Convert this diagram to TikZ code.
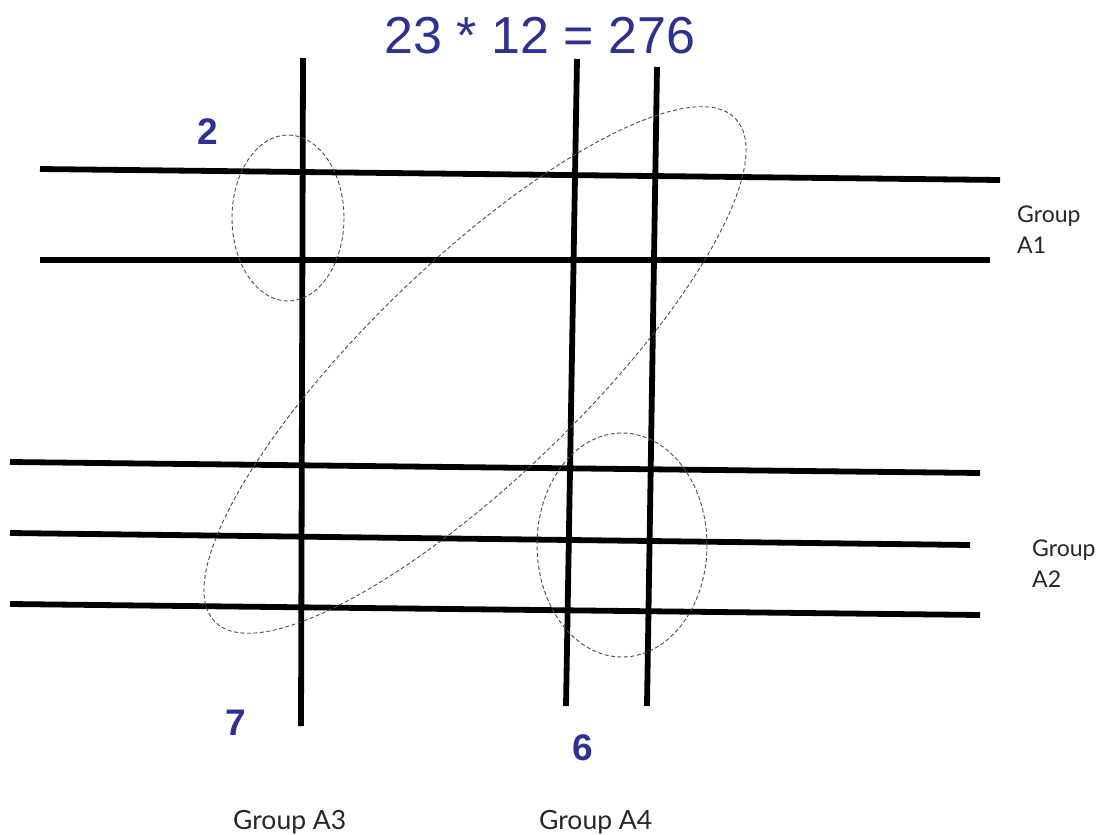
\documentclass[tikz,border=0pt]{standalone}
\usepackage{fontspec}
\setmainfont{Liberation Sans}
\newfontfamily\grpfont{Lato}
\definecolor{numblue}{RGB}{46,49,146}
\tikzset{
  bar/.style={line width=5.8pt, black},
  ring/.style={draw=black!70, line width=0.9pt, dash pattern=on 4pt off 2.5pt},
  bignum/.style={text=numblue, font=\fontsize{52}{60}\selectfont, inner sep=0pt},
  tag/.style={text=numblue, font=\bfseries\fontsize{37}{40}\selectfont, inner sep=0pt},
  grp/.style={text=black!85, font=\grpfont\fontsize{23}{31}\selectfont, inner sep=0pt, anchor=west, align=left},
  grpb/.style={text=black!85, font=\grpfont\fontsize{26.5}{31}\selectfont, inner sep=0pt, anchor=west}
}
\begin{document}
\begin{tikzpicture}[x=1pt,y=-1pt]
\useasboundingbox (0,0) rectangle (1111,835);
% horizontal lines
\coordinate (h1a) at (40,169);  \coordinate (h1b) at (1000,180);
\coordinate (h2a) at (40,260);  \coordinate (h2b) at (990,260);
\coordinate (h3a) at (10,462);  \coordinate (h3b) at (980,473);
\coordinate (h4a) at (10,533);  \coordinate (h4b) at (970,545);
\coordinate (h5a) at (10,604);  \coordinate (h5b) at (980,615);
\draw[bar] (h1a) -- (h1b);
\draw[bar] (h2a) -- (h2b);
\draw[bar] (h3a) -- (h3b);
\draw[bar] (h4a) -- (h4b);
\draw[bar] (h5a) -- (h5b);
% vertical lines
\coordinate (v1a) at (303,58);  \coordinate (v1b) at (301,726);
\coordinate (v2a) at (577,59);  \coordinate (v2b) at (566,706);
\coordinate (v3a) at (657,67);  \coordinate (v3b) at (647,706);
\draw[bar] (v1a) -- (v1b);
\draw[bar] (v2a) -- (v2b);
\draw[bar] (v3a) -- (v3b);
% dashed groupings
\draw[ring] (288,218) ellipse [x radius=56, y radius=83];
\draw[ring] (622,545) ellipse [x radius=85, y radius=112];
\draw[ring, rotate around={44:(475,370)}] (475,370) ellipse [x radius=362, y radius=108];
% texts
\node[bignum] (title) at (540,36) {23 * 12 = 276};
\node[tag] (n2) at (208,132) {2};
\node[tag] (n7) at (236,723) {7};
\node[tag] (n6) at (583,748) {6};
\node[grp] (g1) at (1017,230) {Group\\A1};
\node[grp] (g2) at (1032,564) {Group\\A2};
\node[grpb] (g3) at (233,822) {Group A3};
\node[grpb] (g4) at (539,822) {Group A4};
\end{tikzpicture}
\end{document}
